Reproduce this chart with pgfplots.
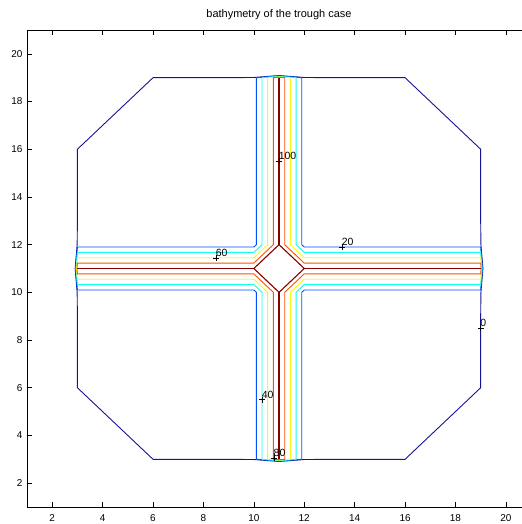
\documentclass[border=0pt]{standalone}
\usepackage{pgfplots}
\pgfplotsset{compat=1.18}
\usepackage{fontspec}
\setmainfont{Liberation Sans}
\definecolor{c0}{RGB}{20,20,150}
\definecolor{c20}{RGB}{0,80,255}
\definecolor{c40}{RGB}{16,255,239}
\definecolor{c60}{RGB}{240,255,16}
\definecolor{c80}{RGB}{255,80,0}
\definecolor{c100}{RGB}{135,0,0}
\begin{document}
\begin{tikzpicture}
\begin{axis}[
  name=ax,
  scale only axis,
  width=495bp, height=477bp,
  xmin=1, xmax=20.64, ymin=1, ymax=21,
  axis x line=box, axis y line=left,
  y axis line style={-},
  x axis line style={-},
  axis line style={line width=0.75bp, black},
  xtick={2,4,...,20}, ytick={2,4,...,20},
  tick align=inside,
  major tick length=5bp,
  tick style={line width=0.6bp, black},
  xtick pos=both,
  xticklabel style={font=\fontsize{10}{11}\selectfont, anchor=north, yshift=-4.5bp},
  yticklabel style={font=\fontsize{10}{11}\selectfont, anchor=east, xshift=-1bp},
  /pgf/number format/assume math mode=true,
  title={bathymetry of the trough case},
  title style={at={(0.509,1)}, anchor=base, yshift=7bp, inner sep=0pt, font=\fontsize{11}{13}\selectfont},
  every axis plot/.append style={line width=0.9bp},
  clip=false,
]
% level 0
\addplot[c0] coordinates {(6,19) (9,19) (10,19.01) (11,19.09) (12,19.01) (13,19) (16,19) (19,16) (19,13) (19.01,12) (19.09,11) (19.01,10) (19,9) (19,6) (16,3) (13,3) (12,2.99) (11,2.91) (10,2.99) (9,3) (6,3) (3,6) (3,9) (2.99,10) (2.91,11) (2.99,12) (3,13) (3,16) (6,19)};
% level 20
\addplot[c20] coordinates {(10.1,19) (11,19.073) (11.9,19) (11.9,12) (12,11.9) (19,11.9) (19.073,11) (19,10.1) (12,10.1) (11.9,10) (11.9,3) (11,2.927) (10.1,3) (10.1,10) (10,10.1) (3,10.1) (2.927,11) (3,11.9) (10,11.9) (10.1,12) (10.1,19)};
% level 40
\addplot[c40] coordinates {(10.325,19) (11,19.055) (11.675,19) (11.675,12) (12,11.675) (19,11.675) (19.055,11) (19,10.325) (12,10.325) (11.675,10) (11.675,3) (11,2.945) (10.325,3) (10.325,10) (10,10.325) (3,10.325) (2.945,11) (3,11.675) (10,11.675) (10.325,12) (10.325,19)};
% level 60
\addplot[c60] coordinates {(10.55,19) (11,19.036) (11.45,19) (11.45,12) (12,11.45) (19,11.45) (19.036,11) (19,10.55) (12,10.55) (11.45,10) (11.45,3) (11,2.964) (10.55,3) (10.55,10) (10,10.55) (3,10.55) (2.964,11) (3,11.45) (10,11.45) (10.55,12) (10.55,19)};
% level 80
\addplot[c80] coordinates {(10.775,19) (11,19.018) (11.225,19) (11.225,12) (12,11.225) (19,11.225) (19.018,11) (19,10.775) (12,10.775) (11.225,10) (11.225,3) (11,2.982) (10.775,3) (10.775,10) (10,10.775) (3,10.775) (2.982,11) (3,11.225) (10,11.225) (10.775,12) (10.775,19)};
% level 100
\addplot[c100, line width=1.3bp] coordinates {(3,11) (10,11)};
\addplot[c100, line width=1.3bp] coordinates {(12,11) (19,11)};
\addplot[c100, line width=1.3bp] coordinates {(11,3) (11,10)};
\addplot[c100, line width=1.3bp] coordinates {(11,12) (11,19)};
\addplot[c100, line width=1.1bp] coordinates {(10,11) (11,12) (12,11) (11,10) (10,11)};
% labels
\addplot[only marks, mark=+, mark size=3bp, black, line width=0.5bp,
  nodes near coords, point meta=explicit symbolic,
  every node near coord/.style={anchor=south west, inner sep=0pt, xshift=-0.5bp, yshift=1bp, font=\fontsize{10.5}{12}\selectfont, black}]
  coordinates {(19,8.5)[0] (13.5,11.9)[20] (8.5,11.45)[60] (11,15.5)[100] (10.325,5.5)[40] (10.8,3.05)[80]};
\end{axis}
\pgfresetboundingbox
\path ([shift={(-27bp,-17bp)}]ax.south west) rectangle ([yshift=30bp]ax.north east);
\end{tikzpicture}
\end{document}
